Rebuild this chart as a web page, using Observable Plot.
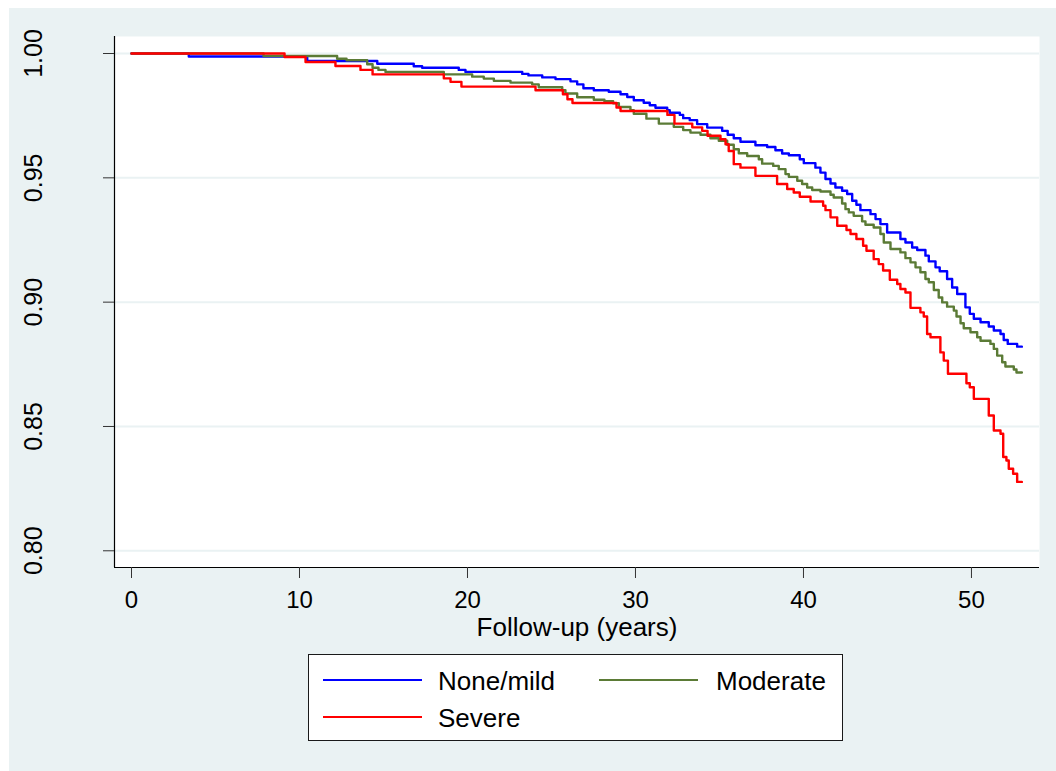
<!DOCTYPE html>
<html>
<head>
<meta charset="utf-8">
<script src="https://cdn.jsdelivr.net/npm/d3@7"></script>
<script src="https://cdn.jsdelivr.net/npm/@observablehq/plot@0.6"></script>
<style>
  html, body { margin: 0; padding: 0; background: #ffffff; }
  #page { position: relative; width: 1056px; height: 771px; overflow: hidden;
          font-family: "Liberation Sans", Arial, sans-serif; color: #000; }
  #bg { position: absolute; left: 9px; top: 8px; right: 0; bottom: 0; background: #eaf2f3; }
  #chart { position: absolute; left: 0; top: 0; }
  #legend { position: absolute; left: 308px; top: 654px; width: 535px; height: 87px;
            background: #fff; border: 1px solid #1a1a1a; box-sizing: border-box; }
  .key { position: absolute; height: 2.4px; width: 99px; }
  .lab { position: absolute; font-size: 26px; line-height: 26px; white-space: nowrap; }
</style>
</head>
<body>
<div id="page">
  <div id="bg"></div>
  <div id="chart"></div>
  <div id="legend"></div>
</div>
<script>
// Kaplan–Meier survival by severity group, follow-up in years.
const groups = ["None/mild", "Moderate", "Severe"];
const groupColors = ["#0000ff", "#5b7b36", "#ff0000"];
const xTicks = [0, 10, 20, 30, 40, 50];
const yTicks = [0.80, 0.85, 0.90, 0.95, 1.00];
const followUpEnd = 53;

// Event times (years) and survival after each event
const noneMildTime = [0, 3.41, 10.46, 14.63, 16.80, 17.30, 19.48, 19.88, 23.26, 23.63, 24.45, 25.24, 26.13, 26.53, 26.90, 27.52, 28.41, 29.11, 29.51, 29.90, 30.49, 30.85, 31.19, 31.89, 32.04, 32.64, 32.84, 33.23, 33.67, 34.27, 35.16, 35.49, 35.85, 36.25, 37.14, 37.84, 38.33, 38.73, 39.13, 39.78, 40.02, 40.71, 41.01, 41.31, 41.61, 41.90, 42.30, 42.60, 42.90, 43.15, 43.39, 43.99, 44.29, 44.58, 44.98, 45.77, 46.07, 46.47, 46.77, 47.26, 47.46, 47.86, 48.11, 48.55, 48.85, 49.15, 49.64, 49.90, 50.14, 50.54, 51.03, 51.33, 51.73, 51.92, 52.16, 52.72];
const noneMildSurv = [1, 0.9988, 0.9970, 0.9959, 0.9949, 0.9943, 0.9934, 0.9926, 0.9918, 0.9912, 0.9904, 0.9897, 0.9888, 0.9876, 0.9860, 0.9852, 0.9846, 0.9836, 0.9825, 0.9812, 0.9802, 0.9792, 0.9782, 0.9772, 0.9762, 0.9753, 0.9740, 0.9732, 0.9716, 0.9702, 0.9689, 0.9673, 0.9659, 0.9645, 0.9631, 0.9624, 0.9611, 0.9598, 0.9591, 0.9575, 0.9559, 0.9541, 0.9521, 0.9495, 0.9477, 0.9461, 0.9448, 0.9435, 0.9408, 0.9392, 0.9370, 0.9354, 0.9334, 0.9314, 0.9280, 0.9254, 0.9240, 0.9220, 0.9210, 0.9187, 0.9164, 0.9140, 0.9124, 0.9093, 0.9059, 0.9033, 0.8979, 0.8953, 0.8933, 0.8919, 0.8902, 0.8886, 0.8872, 0.8848, 0.8832, 0.8821];

const moderateTime = [0, 7.86, 12.24, 12.80, 14.03, 14.35, 14.70, 15.12, 18.59, 20.28, 20.97, 21.57, 22.56, 23.85, 24.24, 25.64, 25.83, 26.53, 27.52, 28.15, 28.67, 29.01, 29.70, 29.90, 30.65, 31.39, 32.28, 32.84, 33.27, 33.87, 34.46, 34.96, 35.46, 35.85, 36.15, 36.65, 37.34, 37.54, 38.20, 38.53, 38.93, 39.13, 39.63, 39.92, 40.22, 40.52, 41.01, 41.61, 41.80, 42.30, 42.50, 42.70, 42.99, 43.49, 43.69, 44.18, 44.58, 44.78, 45.18, 45.77, 46.07, 46.37, 46.67, 46.96, 47.26, 47.46, 47.76, 48.05, 48.26, 48.55, 48.95, 49.11, 49.35, 49.54, 49.94, 50.34, 50.54, 51.13, 51.33, 51.53, 51.83, 52.02, 52.52, 52.68];
const moderateSurv = [1, 0.9990, 0.9979, 0.9973, 0.9957, 0.9943, 0.9934, 0.9926, 0.9916, 0.9907, 0.9899, 0.9890, 0.9883, 0.9876, 0.9864, 0.9852, 0.9839, 0.9824, 0.9814, 0.9808, 0.9800, 0.9785, 0.9772, 0.9758, 0.9738, 0.9718, 0.9705, 0.9692, 0.9682, 0.9673, 0.9659, 0.9649, 0.9633, 0.9615, 0.9599, 0.9588, 0.9575, 0.9557, 0.9548, 0.9535, 0.9515, 0.9504, 0.9488, 0.9475, 0.9461, 0.9451, 0.9445, 0.9432, 0.9421, 0.9397, 0.9374, 0.9361, 0.9347, 0.9325, 0.9311, 0.9300, 0.9274, 0.9240, 0.9214, 0.9200, 0.9177, 0.9160, 0.9140, 0.9120, 0.9093, 0.9080, 0.9049, 0.9019, 0.8999, 0.8982, 0.8966, 0.8942, 0.8915, 0.8895, 0.8879, 0.8859, 0.8845, 0.8832, 0.8812, 0.8785, 0.8758, 0.8741, 0.8729, 0.8717];

const severeTime = [0, 9.11, 10.36, 12.14, 13.63, 14.35, 18.59, 18.99, 19.64, 24.05, 25.68, 25.95, 26.25, 28.87, 29.11, 31.90, 32.32, 33.38, 33.97, 34.29, 35.06, 35.36, 35.55, 35.85, 36.25, 37.14, 38.43, 39.03, 39.42, 39.78, 40.42, 41.17, 41.31, 41.61, 42.01, 42.56, 42.80, 43.15, 43.55, 43.75, 44.18, 44.48, 44.74, 45.14, 45.58, 45.77, 46.07, 46.37, 46.96, 47.16, 47.36, 47.56, 48.15, 48.35, 48.60, 49.70, 49.90, 50.14, 51.03, 51.33, 51.73, 51.89, 52.08, 52.22, 52.48, 52.72];
const severeSurv = [1, 0.9986, 0.9966, 0.9950, 0.9934, 0.9916, 0.9900, 0.9886, 0.9867, 0.9852, 0.9836, 0.9816, 0.9801, 0.9783, 0.9769, 0.9753, 0.9718, 0.9703, 0.9689, 0.9669, 0.9655, 0.9635, 0.9608, 0.9555, 0.9541, 0.9508, 0.9475, 0.9455, 0.9441, 0.9424, 0.9405, 0.9388, 0.9370, 0.9341, 0.9307, 0.9290, 0.9274, 0.9254, 0.9227, 0.9207, 0.9173, 0.9153, 0.9127, 0.9090, 0.9073, 0.9053, 0.9039, 0.8977, 0.8959, 0.8942, 0.8872, 0.8859, 0.8798, 0.8765, 0.8712, 0.8674, 0.8658, 0.8611, 0.8544, 0.8484, 0.8471, 0.8377, 0.8363, 0.8330, 0.8310, 0.8277];

// One row per step; the last level is carried to the end of follow-up
function stepRows(group, time, surv) {
  const rows = time.map((t, i) => ({group, time: t, surv: surv[i]}));
  rows.push({group, time: followUpEnd, surv: surv[surv.length - 1]});
  return rows;
}
const rows = [
  ...stepRows(groups[0], noneMildTime, noneMildSurv),
  ...stepRows(groups[1], moderateTime, moderateSurv),
  ...stepRows(groups[2], severeTime, severeSurv)
];

const xDomain = [-1.012, 54.05];
const yDomain = [0.79328, 1.00684];
const font = "'Liberation Sans', Arial, sans-serif";

const chart = Plot.plot({
  width: 1056,
  height: 650,
  marginLeft: 114,
  marginRight: 17,
  marginTop: 36,
  marginBottom: 83,
  style: {background: "transparent", fontFamily: font, color: "#000", overflow: "visible"},
  x: {domain: xDomain, label: null},
  y: {domain: yDomain, label: null},
  color: {domain: groups, range: groupColors},
  marks: [
    Plot.frame({fill: "white", stroke: "none"}),
    Plot.ruleY(yTicks, {stroke: "#eaf2f3", strokeWidth: 2}),
    Plot.ruleX([xDomain[0]], {stroke: "#000", strokeWidth: 1.2}),
    Plot.ruleY([yDomain[0]], {stroke: "#000", strokeWidth: 1.2}),
    Plot.axisX(xTicks, {tickSize: 11, tickPadding: 12, fontSize: 24, stroke: "#333", label: null}),
    Plot.axisY(yTicks, {tickSize: 11, tickPadding: 70, fontSize: 25, stroke: "#333", label: null,
                        tickFormat: d3.format(".2f"), tickRotate: -90,
                        textAnchor: "middle", lineAnchor: "middle"}),
    Plot.line(rows, {x: "time", y: "surv", z: "group", stroke: "group",
                     curve: "step-after", strokeWidth: 2.4}),
    Plot.text(["Follow-up (years)"], {frameAnchor: "bottom", dy: 50, lineAnchor: "top", fontSize: 26})
  ]
});
document.getElementById("chart").appendChild(chart);

// Legend: two columns, two rows
const legend = document.getElementById("legend");
const slots = [
  {key: 14, lab: 129, row: 0},
  {key: 290, lab: 407, row: 0},
  {key: 14, lab: 129, row: 1}
];
groups.forEach((g, i) => {
  const s = slots[i];
  const k = document.createElement("div");
  k.className = "key";
  k.style.left = s.key + "px";
  k.style.top = (24 + s.row * 37) + "px";
  k.style.background = groupColors[i];
  legend.appendChild(k);
  const t = document.createElement("div");
  t.className = "lab";
  t.style.left = s.lab + "px";
  t.style.top = (13 + s.row * 37) + "px";
  t.textContent = g;
  legend.appendChild(t);
});
</script>
</body>
</html>
